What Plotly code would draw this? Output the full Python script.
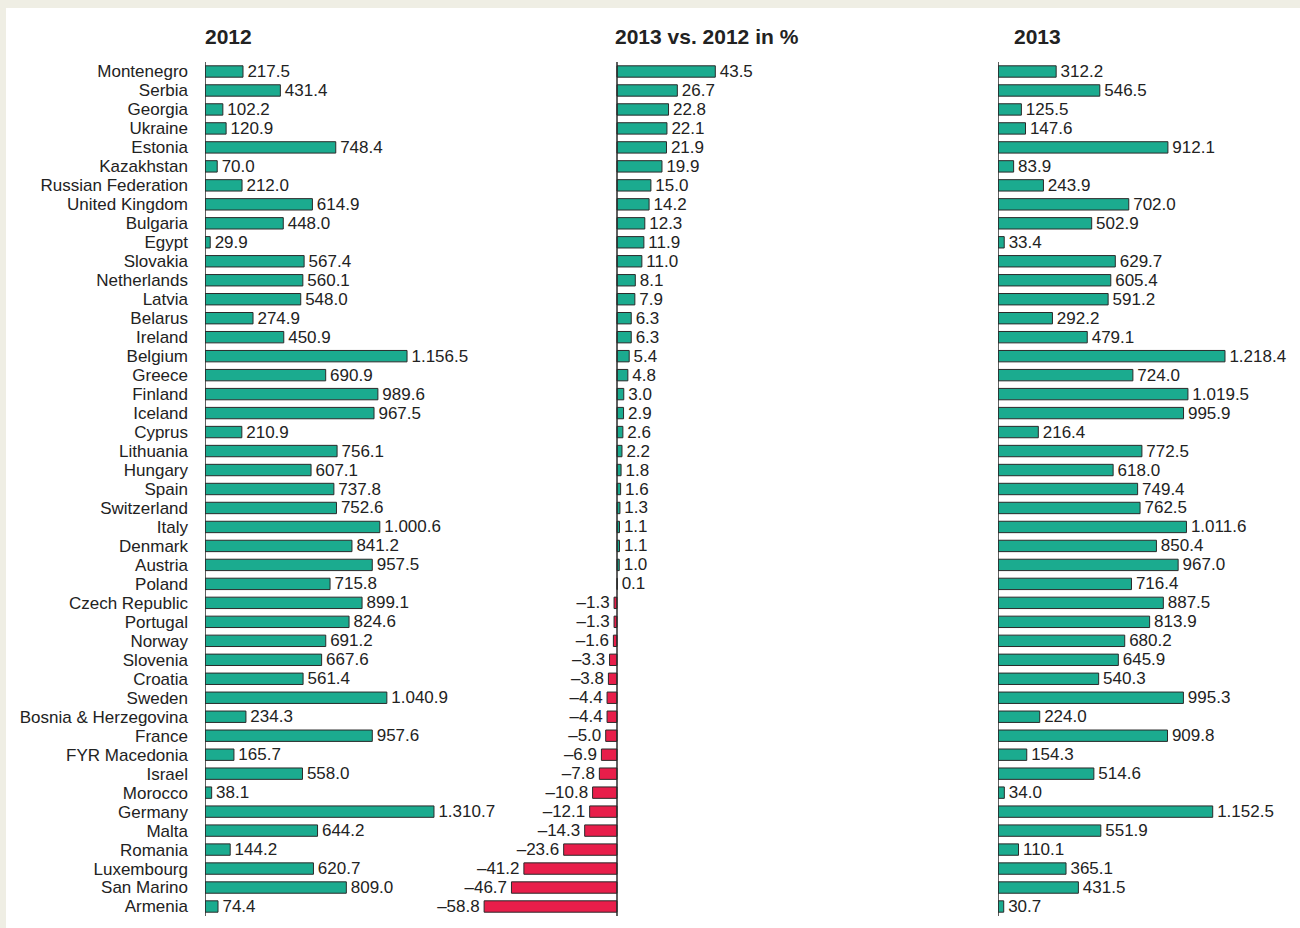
import plotly.graph_objects as go

countries = [
    "Montenegro", "Serbia", "Georgia", "Ukraine", "Estonia", "Kazakhstan",
    "Russian Federation", "United Kingdom", "Bulgaria", "Egypt", "Slovakia",
    "Netherlands", "Latvia", "Belarus", "Ireland", "Belgium", "Greece",
    "Finland", "Iceland", "Cyprus", "Lithuania", "Hungary", "Spain",
    "Switzerland", "Italy", "Denmark", "Austria", "Poland", "Czech Republic",
    "Portugal", "Norway", "Slovenia", "Croatia", "Sweden",
    "Bosnia & Herzegovina", "France", "FYR Macedonia", "Israel", "Morocco",
    "Germany", "Malta", "Romania", "Luxembourg", "San Marino", "Armenia",
]
values_2012 = [
    217.5, 431.4, 102.2, 120.9, 748.4, 70.0, 212.0, 614.9, 448.0, 29.9,
    567.4, 560.1, 548.0, 274.9, 450.9, 1156.5, 690.9, 989.6, 967.5, 210.9,
    756.1, 607.1, 737.8, 752.6, 1000.6, 841.2, 957.5, 715.8, 899.1, 824.6,
    691.2, 667.6, 561.4, 1040.9, 234.3, 957.6, 165.7, 558.0, 38.1, 1310.7,
    644.2, 144.2, 620.7, 809.0, 74.4,
]
change_pct = [
    43.5, 26.7, 22.8, 22.1, 21.9, 19.9, 15.0, 14.2, 12.3, 11.9, 11.0, 8.1,
    7.9, 6.3, 6.3, 5.4, 4.8, 3.0, 2.9, 2.6, 2.2, 1.8, 1.6, 1.3, 1.1, 1.1,
    1.0, 0.1, -1.3, -1.3, -1.6, -3.3, -3.8, -4.4, -4.4, -5.0, -6.9, -7.8,
    -10.8, -12.1, -14.3, -23.6, -41.2, -46.7, -58.8,
]
values_2013 = [
    312.2, 546.5, 125.5, 147.6, 912.1, 83.9, 243.9, 702.0, 502.9, 33.4,
    629.7, 605.4, 591.2, 292.2, 479.1, 1218.4, 724.0, 1019.5, 995.9, 216.4,
    772.5, 618.0, 749.4, 762.5, 1011.6, 850.4, 967.0, 716.4, 887.5, 813.9,
    680.2, 645.9, 540.3, 995.3, 224.0, 909.8, 154.3, 514.6, 34.0, 1152.5,
    551.9, 110.1, 365.1, 431.5, 30.7,
]
titles = ["2012", "2013 vs. 2012 in %", "2013"]

TEAL = "#1bab8f"
RED = "#e81e4a"
EDGE = "#2a2a2a"
TXT = "#222222"
W, H = 1300, 928
GAP = "\u200a"  # small extra gap between bar end and label


def fmt(v):
    s = f"{abs(v):,.1f}".replace(",", ".")
    return ("\u2013" + s + GAP) if v < 0 else (GAP + s)


fig = go.Figure()

panels = [
    ("x", values_2012, [TEAL] * len(values_2012)),
    ("x2", change_pct, [TEAL if v >= 0 else RED for v in change_pct]),
    ("x3", values_2013, [TEAL] * len(values_2013)),
]
for xa, vals, cols in panels:
    fig.add_trace(go.Bar(
        x=vals, y=countries, orientation="h", xaxis=xa, yaxis="y",
        marker=dict(color=cols, line=dict(color=EDGE, width=1)),
        width=0.6, text=[fmt(v) for v in vals], textposition="outside",
        textfont=dict(size=17, color=TXT), constraintext="none",
        cliponaxis=False, showlegend=False, hoverinfo="x+y",
    ))


def px(p):
    return p / W


ydom = [1 - 916 / H, 1 - 62 / H]
axis_common = dict(showgrid=False, zeroline=False, showticklabels=False,
                   ticks="", showline=False, fixedrange=True)

# title centres in pixels
title_x = [228, 707, 1037]

fig.update_layout(
    width=W, height=H,
    margin=dict(l=0, r=0, t=0, b=0),
    paper_bgcolor="#efeee4",
    plot_bgcolor="rgba(0,0,0,0)",
    font=dict(family="Liberation Sans, Arial, sans-serif", size=17, color=TXT),
    xaxis=dict(domain=[px(205), px(520)], range=[0, (520 - 205) / 0.1747], **axis_common),
    xaxis2=dict(domain=[px(440), px(800)],
                range=[-(617 - 440) / 2.26, (800 - 617) / 2.26], anchor="y", **axis_common),
    xaxis3=dict(domain=[px(998), px(1300)], range=[0, 302 / 0.1863], anchor="y", **axis_common),
    yaxis=dict(domain=ydom, autorange="reversed", showgrid=False, zeroline=False,
               ticks="", showline=False, ticklabelstandoff=16,
               tickmode="array", tickvals=countries, ticktext=countries,
               tickfont=dict(size=17, color=TXT), fixedrange=True),
    shapes=[
        dict(type="rect", xref="paper", yref="paper", x0=px(6), x1=1,
             y0=0, y1=1 - 8 / H, fillcolor="white", line=dict(width=0), layer="below"),
    ] + [
        dict(type="line", xref=xa, yref="paper", x0=0, x1=0, y0=ydom[0], y1=ydom[1],
             line=dict(color=EDGE, width=1.5))
        for xa in ("x", "x2", "x3")
    ],
    annotations=[
        dict(text=f"<b>{t}</b>", xref="paper", yref="paper", x=px(cx), y=1 - 36 / H,
             xanchor="center", yanchor="middle", showarrow=False,
             font=dict(size=21, color=TXT))
        for t, cx in zip(titles, title_x)
    ],
)

fig.write_html("out.html", post_script="document.body.style.margin='0px';",
               config={"displayModeBar": False})
